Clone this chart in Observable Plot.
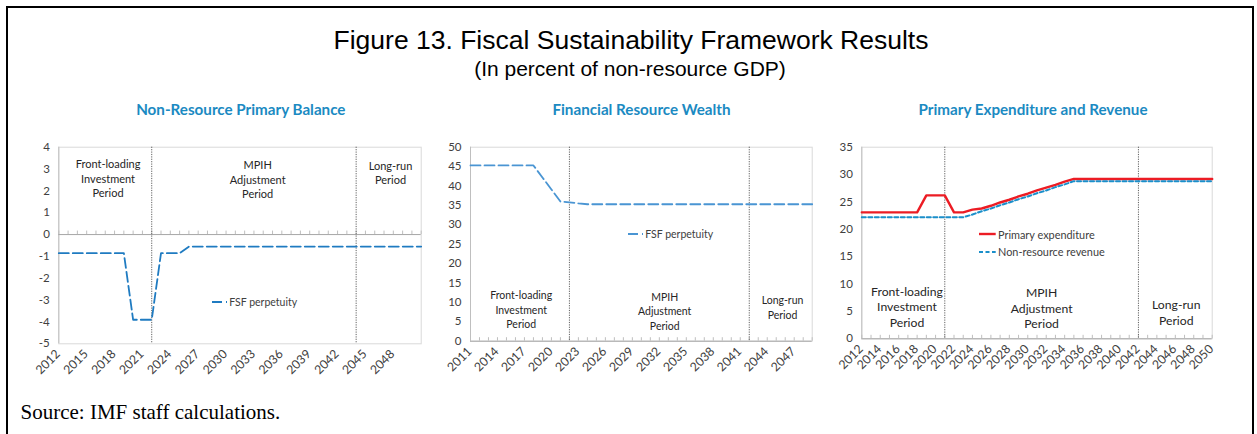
<!DOCTYPE html>
<html><head><meta charset="utf-8">
<script src="https://cdn.jsdelivr.net/npm/d3@7"></script>
<script src="https://cdn.jsdelivr.net/npm/@observablehq/plot@0.6"></script>
<style>
html,body{margin:0;padding:0;background:#fff;overflow:hidden;}
#root{position:relative;width:1257px;height:434px;overflow:hidden;background:#fff;}
.abs{position:absolute;white-space:nowrap;line-height:1;}
.frame{position:absolute;left:6px;top:6px;width:1248px;height:500px;border:2px solid #000;box-sizing:border-box;}
.title{font-family:"Liberation Sans",Arial,sans-serif;color:#000;text-align:center;}
.ptitle{font-family:Lato,sans-serif;font-weight:700;font-size:15.2px;color:#1b8ac2;text-align:center;}
.src{font-family:"Liberation Serif","Times New Roman",serif;font-size:21px;color:#000;}
.leg{position:absolute;display:flex;align-items:center;height:14px;font-family:Lato,sans-serif;color:#404040;white-space:nowrap;}
.leg svg{display:block;}
.plotbox{position:absolute;}
.plotbox svg{overflow:visible;background:transparent;max-width:none;}
</style></head><body><div id="root">
<div class="frame"></div>
<div class="abs title" style="left:231px;width:800px;top:26.9px;font-size:26.5px;">Figure 13. Fiscal Sustainability Framework Results</div>
<div class="abs title" style="left:230px;width:800px;top:57.7px;font-size:21px;">(In percent of non-resource GDP)</div>
<div class="abs ptitle" style="left:90.8px;width:300px;top:101.8px;">Non-Resource Primary Balance</div>
<div class="abs ptitle" style="left:491.5px;width:300px;top:101.8px;">Financial Resource Wealth</div>
<div class="abs ptitle" style="left:883px;width:300px;top:101.8px;">Primary Expenditure and Revenue</div>
<div class="abs src" style="left:20.5px;top:402.4px;">Source: IMF staff calculations.</div>
</div>
<script>
// ---------- Data ----------
const periodLabels = ["Front-loading\nInvestment\nPeriod", "MPIH\nAdjustment\nPeriod", "Long-run\nPeriod"];

// Panel 1: Non-Resource Primary Balance
const p1Years = d3.range(2012, 2052);
const p1FSF = [-0.85,-0.85,-0.85,-0.85,-0.85,-0.85,-0.85,-0.85,
  -3.9,-3.9,-3.9,
  -0.85,-0.85,-0.85,
  -0.55,-0.55,-0.55,-0.55,-0.55,-0.55,-0.55,-0.55,-0.55,-0.55,-0.55,-0.55,-0.55,
  -0.55,-0.55,-0.55,-0.55,-0.55,-0.55,-0.55,-0.55,-0.55,-0.55,-0.55,-0.55,-0.55];
const p1XLabels = [2012,2015,2018,2021,2024,2027,2030,2033,2036,2039,2042,2045,2048];
const p1YTicks = [-5,-4,-3,-2,-1,0,1,2,3,4];
const p1VLines = [2022, 2044];
const p1PeriodX = [2017.3, 2033.4, 2047.7];
const p1PeriodY = [2.58, 2.55, 2.85];

// Panel 2: Financial Resource Wealth
const p2Years = d3.range(2011, 2050);
const p2FSF = [45.3,45.3,45.3,45.3,45.3,45.3,45.3,45.3,
  42.2,39.1,36.0,35.8,35.5,
  35.3,35.3,35.3,35.3,35.3,35.3,35.3,35.3,35.3,35.3,35.3,35.3,35.3,
  35.3,35.3,35.3,35.3,35.3,35.3,35.3,35.3,35.3,35.3,35.3,35.3,35.3];
const p2XLabels = [2011,2014,2017,2020,2023,2026,2029,2032,2035,2038,2041,2044,2047];
const p2YTicks = [0,5,10,15,20,25,30,35,40,45,50];
const p2VLines = [2022, 2042];
const p2PeriodX = [2016.64, 2032.6, 2045.7];
const p2PeriodY = [8.25, 7.83, 8.8];

// Panel 3: Primary Expenditure and Revenue
const p3Years = d3.range(2012, 2051);
const p3Expenditure = [23.1,23.1,23.1,23.1,23.1,23.1,23.1,
  26.2,26.2,26.2,
  23.1,23.1,
  23.6,23.8,24.3,24.9,25.4,26.0,26.5,27.1,27.6,28.1,28.7,29.2,
  29.2,29.2,29.2,29.2,29.2,29.2,29.2,29.2,29.2,29.2,29.2,29.2,29.2,29.2,29.2];
const p3Revenue = [22.2,22.2,22.2,22.2,22.2,22.2,22.2,22.2,22.2,22.2,22.2,22.2,
  22.7,23.3,23.8,24.4,24.9,25.5,26.0,26.6,27.1,27.7,28.2,28.8,
  28.8,28.8,28.8,28.8,28.8,28.8,28.8,28.8,28.8,28.8,28.8,28.8,28.8,28.8,28.8];
const p3XLabels = [2012,2014,2016,2018,2020,2022,2024,2026,2028,2030,2032,2034,2036,2038,2040,2042,2044,2046,2048,2050];
const p3YTicks = [0,5,10,15,20,25,30,35];
const p3VLines = [2021, 2042];
const p3PeriodX = [2016.9, 2031.5, 2046.1];
const p3PeriodY = [5.92, 5.72, 4.95];

// ---------- Helpers ----------
const root = document.getElementById("root");

function panel(cfg) {
  const {left, top, width, height, ml, mr, mt, mb, xDomain, yDomain, yTicks, xLabels, years,
         vlines, periods, periodFont, periodLH, marks} = cfg;
  const unit = (yDomain[1] - yDomain[0]) / (height - mt - mb);
  const tickY = 0;
  const chart = Plot.plot({
    width, height, marginLeft: ml, marginRight: mr, marginTop: mt, marginBottom: mb,
    x: {domain: xDomain, axis: null},
    y: {domain: yDomain, axis: null, label: null},
    style: {fontFamily: "Lato, sans-serif", fontSize: "11px", color: "#404040", background: "transparent", overflow: "visible"},
    marks: [
      Plot.frame({stroke: "#d9d9d9"}),
      Plot.ruleX([xDomain[0]], {stroke: "#bfbfbf"}),
      Plot.ruleY([tickY], {stroke: "#a6a6a6"}),
      Plot.ruleX(years, {x: d => d, y1: tickY, y2: tickY + 3.5 * unit, stroke: "#bfbfbf"}),
      Plot.ruleX(vlines, {x: d => d, stroke: "#606060", strokeWidth: 1, strokeDasharray: "1.2,1.2"}),
      Plot.axisY({ticks: yTicks, tickSize: 0, tickPadding: 9, tickFormat: d => String(d), fontSize: 11.5, fill: "#404040", label: null}),
      Plot.text(xLabels, {x: d => d, text: d => String(d), frameAnchor: "bottom", rotate: -45, textAnchor: "end", dx: 2, dy: 11, fontSize: 12.3, fill: "#404040"}),
      Plot.text(periods, {x: "x", y: "y", text: "label", fontSize: periodFont, lineHeight: periodLH, fill: "#262626"}),
      ...marks
    ]
  });
  const box = document.createElement("div");
  box.className = "plotbox";
  box.style.left = left + "px";
  box.style.top = top + "px";
  box.style.width = width + "px";
  box.appendChild(chart);
  root.appendChild(box);
}

function zipPeriods(xs, ys) {
  return periodLabels.map((label, i) => ({label, x: xs[i], y: ys[i]}));
}

function legend(left, top, items, fontSize) {
  items.forEach((it, i) => {
    const d = document.createElement("div");
    d.className = "leg";
    d.style.left = left + "px";
    d.style.top = (top + i * it.step - 7) + "px";
    d.style.fontSize = fontSize + "px";
    d.innerHTML = `<svg width="${it.w}" height="6"><line x1="0" x2="${it.w}" y1="3" y2="3" stroke="${it.color}" stroke-width="${it.sw}" ${it.dash ? `stroke-dasharray="${it.dash}"` : ""}/></svg><span style="margin-left:${it.gap}px">${it.label}</span>`;
    root.appendChild(d);
  });
}

// ---------- Panel 1 ----------
const p1Data = p1Years.map((year, i) => ({year, value: p1FSF[i]}));
panel({
  left: 10, top: 130, width: 420, height: 270, ml: 48.3, mr: 9.3, mt: 16.7, mb: 56.7,
  xDomain: [2012, 2051], yDomain: [-5, 4], yTicks: p1YTicks, xLabels: p1XLabels, years: p1Years,
  vlines: p1VLines, periods: zipPeriods(p1PeriodX, p1PeriodY), periodFont: 11, periodLH: 1.32,
  marks: [Plot.line(p1Data, {x: "year", y: "value", stroke: "#1f7bc1", strokeWidth: 1.8, strokeDasharray: "10,4"})]
});
legend(211.7, 301.7, [{label: "FSF perpetuity", color: "#1f7bc1", sw: 1.8, dash: "10,4", w: 15, gap: 2.6, step: 0}], 10.5);

// ---------- Panel 2 ----------
const p2Data = p2Years.map((year, i) => ({year, value: p2FSF[i]}));
panel({
  left: 430, top: 130, width: 410, height: 270, ml: 40, mr: 28.3, mt: 16.7, mb: 59.3,
  xDomain: [2011, 2049], yDomain: [0, 50], yTicks: p2YTicks, xLabels: p2XLabels, years: p2Years,
  vlines: p2VLines, periods: zipPeriods(p2PeriodX, p2PeriodY), periodFont: 10.5, periodLH: 1.38,
  marks: [Plot.line(p2Data, {x: "year", y: "value", stroke: "#4a95d3", strokeWidth: 1.8, strokeDasharray: "10,4"})]
});
legend(628.3, 234.3, [{label: "FSF perpetuity", color: "#4a95d3", sw: 1.8, dash: "10,4", w: 15, gap: 2, step: 0}], 10.5);

// ---------- Panel 3 ----------
const p3Data = p3Years.map((year, i) => ({year, exp: p3Expenditure[i], rev: p3Revenue[i]}));
panel({
  left: 820, top: 130, width: 437, height: 270, ml: 41.3, mr: 45.3, mt: 16.7, mb: 61.7,
  xDomain: [2012, 2050], yDomain: [0, 35], yTicks: p3YTicks, xLabels: p3XLabels, years: p3Years,
  vlines: p3VLines, periods: zipPeriods(p3PeriodX, p3PeriodY), periodFont: 12.2, periodLH: 1.3,
  marks: [
    Plot.line(p3Data, {x: "year", y: "exp", stroke: "#ec1c24", strokeWidth: 2.4}),
    Plot.line(p3Data, {x: "year", y: "rev", stroke: "#1b8fca", strokeWidth: 2, strokeDasharray: "4,2.5"})
  ]
});
legend(979.3, 234, [
  {label: "Primary expenditure", color: "#ec1c24", sw: 2.4, dash: null, w: 16.7, gap: 2, step: 17.7},
  {label: "Non-resource revenue", color: "#1b8fca", sw: 2, dash: "4,2.5", w: 16.7, gap: 2, step: 17.7}
], 10.9);
</script>
</body></html>
